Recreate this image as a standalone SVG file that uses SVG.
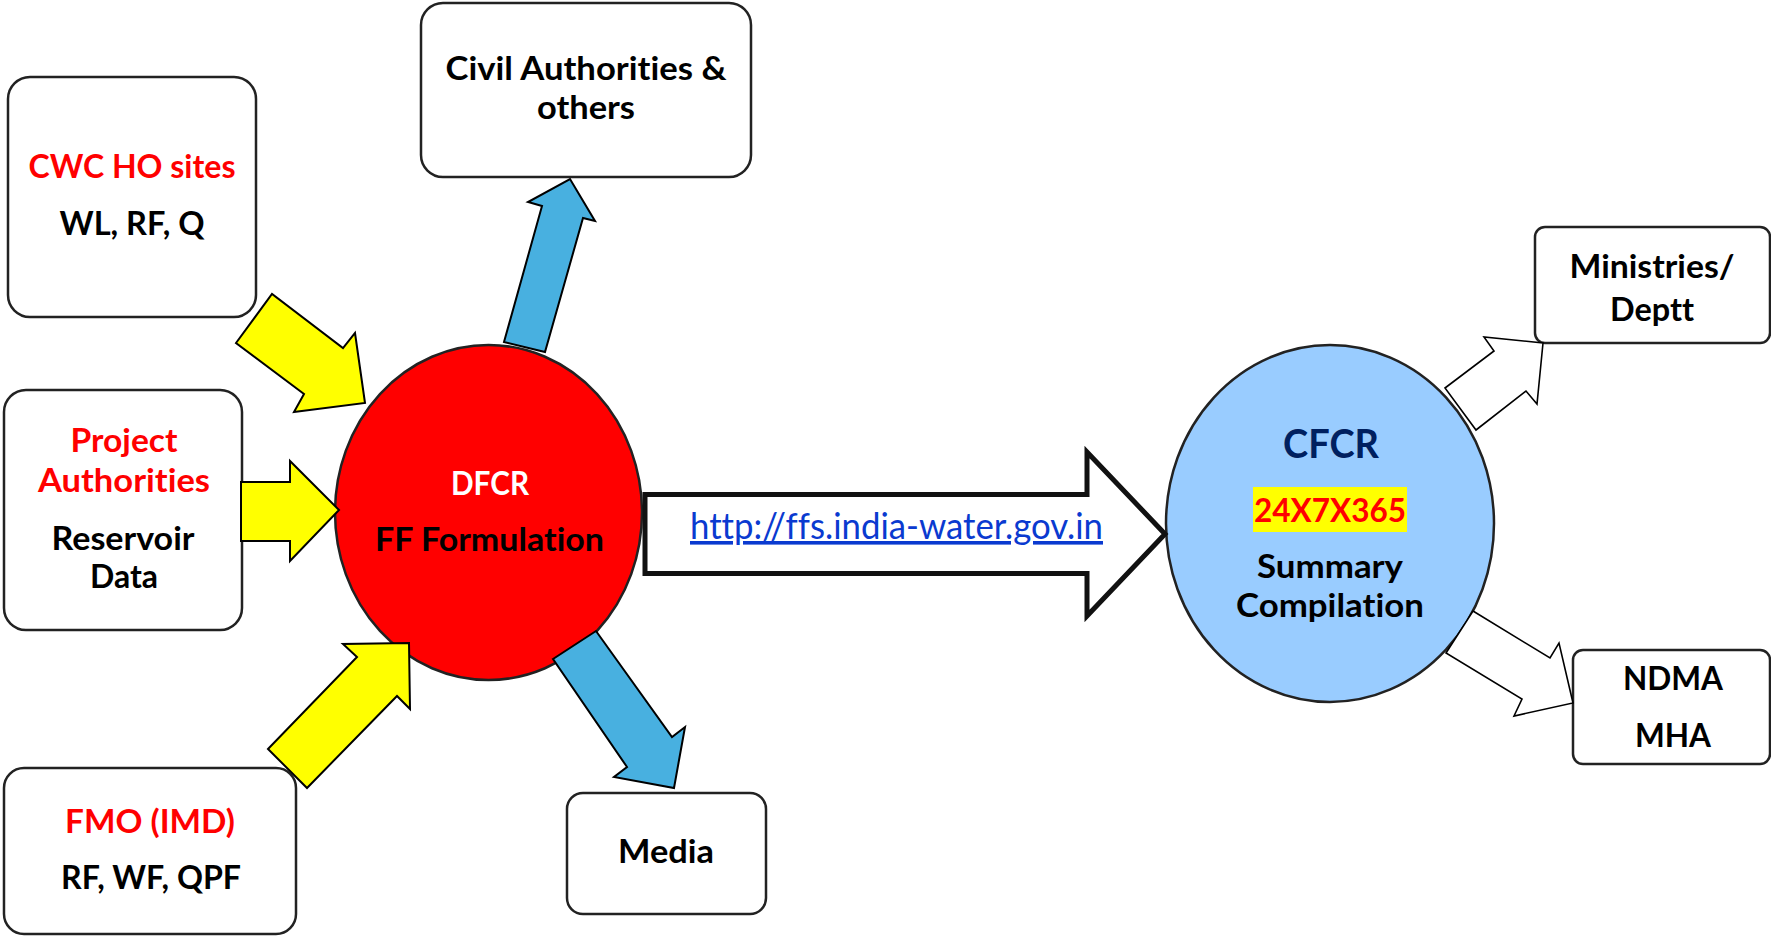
<svg xmlns="http://www.w3.org/2000/svg" width="1771" height="937" viewBox="0 0 1771 937">
<style>
text{font-family:Lato,"Liberation Sans",sans-serif;font-weight:bold;text-anchor:middle;font-variant-ligatures:none;font-feature-settings:"liga" 0}
.box{fill:#fff;stroke:#222;stroke-width:2.5}
.red{fill:#ff0000}
.blk{fill:#000}
.ya{fill:#ffff00;stroke:#000;stroke-width:2;stroke-linejoin:miter}
.ba{fill:#48b0e0;stroke:#000;stroke-width:2}
.wa{fill:#fff;stroke:#000;stroke-width:1.6}
</style>
<rect width="1771" height="937" fill="#fff"/>
<g id="cwc">
<rect class="box" x="8" y="77" width="248" height="240" rx="22"/>
<text class="red" x="132" y="178" font-size="32.5" textLength="207" lengthAdjust="spacingAndGlyphs">CWC HO sites</text>
<text class="blk" x="132" y="235" font-size="32.5" textLength="145" lengthAdjust="spacingAndGlyphs">WL, RF, Q</text>
</g>
<g id="project">
<rect class="box" x="4" y="390" width="238" height="240" rx="22"/>
<text class="red" x="124" y="452" font-size="32" textLength="107" lengthAdjust="spacingAndGlyphs">Project</text>
<text class="red" x="124" y="492" font-size="32" textLength="172" lengthAdjust="spacingAndGlyphs">Authorities</text>
<text class="blk" x="123" y="550" font-size="32" textLength="143" lengthAdjust="spacingAndGlyphs">Reservoir</text>
<text class="blk" x="124" y="588" font-size="32" textLength="68" lengthAdjust="spacingAndGlyphs">Data</text>
</g>
<g id="fmo">
<rect class="box" x="4" y="768" width="292" height="166" rx="20"/>
<text class="red" x="150" y="833" font-size="32.5" textLength="170" lengthAdjust="spacingAndGlyphs">FMO (IMD)</text>
<text class="blk" x="151" y="889" font-size="32.5" textLength="180" lengthAdjust="spacingAndGlyphs">RF, WF, QPF</text>
</g>
<g id="civil">
<rect class="box" x="421" y="3" width="330" height="174" rx="22"/>
<text class="blk" x="586" y="80" font-size="32.5" textLength="281" lengthAdjust="spacingAndGlyphs">Civil Authorities &amp;</text>
<text class="blk" x="586" y="119" font-size="32.5" textLength="98" lengthAdjust="spacingAndGlyphs">others</text>
</g>
<g id="media">
<rect class="box" x="567" y="793" width="199" height="121" rx="16"/>
<text class="blk" x="666" y="863" font-size="32.5" textLength="96" lengthAdjust="spacingAndGlyphs">Media</text>
</g>
<g id="dfcr">
<ellipse cx="488.5" cy="512.5" rx="153.5" ry="167.5" fill="#ff0000" stroke="#222" stroke-width="2.5"/>
<text x="490" y="495" font-size="32" fill="#fff" textLength="78" lengthAdjust="spacingAndGlyphs">DFCR</text>
<text class="blk" x="489.5" y="551" font-size="32.5" textLength="229" lengthAdjust="spacingAndGlyphs">FF Formulation</text>
</g>
<g id="cfcr">
<ellipse cx="1330" cy="523.5" rx="164" ry="178.5" fill="#99ccff" stroke="#222" stroke-width="2.5"/>
<text x="1331" y="458" font-size="41" fill="#002060" textLength="96" lengthAdjust="spacingAndGlyphs">CFCR</text>
<rect x="1253" y="487" width="154" height="45" fill="#ffff00"/>
<text class="red" x="1330" y="522" font-size="32.5" textLength="152" lengthAdjust="spacingAndGlyphs">24X7X365</text>
<text class="blk" x="1330" y="578" font-size="32.5" textLength="146" lengthAdjust="spacingAndGlyphs">Summary</text>
<text class="blk" x="1330" y="617" font-size="32.5" textLength="188" lengthAdjust="spacingAndGlyphs">Compilation</text>
</g>
<g id="ministries">
<rect class="box" x="1535" y="227" width="235" height="116" rx="10"/>
<text class="blk" x="1652" y="278" font-size="32.5" textLength="165" lengthAdjust="spacingAndGlyphs">Ministries/</text>
<text class="blk" x="1652" y="321" font-size="32.5" textLength="84" lengthAdjust="spacingAndGlyphs">Deptt</text>
</g>
<g id="ndma">
<rect class="box" x="1573" y="650" width="197" height="114" rx="10"/>
<text class="blk" x="1673" y="690" font-size="32.5" textLength="100" lengthAdjust="spacingAndGlyphs">NDMA</text>
<text class="blk" x="1673" y="747" font-size="32.5" textLength="76" lengthAdjust="spacingAndGlyphs">MHA</text>
</g>
<g id="connectors">
<polygon class="ya" points="236,343 272,294 343,348 355,333 365,403 294,412 304,394"/>
<polygon class="ya" points="241,482 290,482 290,461 339,510 290,561 290,541 241,541"/>
<polygon class="ya" points="268,749 357,657 343,644 409,643 410,709 397,696 307,788"/>
<polygon class="ba" points="504,342 545,352 583,218 595,221 570,179 528,202 542,206"/>
<polygon class="ba" points="553,659 596,631 672,737 685,727 674,788 614,777 627,767"/>
<polygon points="645,494.5 1087,494.5 1087,452 1165,534 1087,616 1087,573.5 645,573.5" fill="#fff" stroke="#111" stroke-width="5"/>
<text x="896.5" y="539" font-size="36" fill="#0a3ad0" text-decoration="underline" textLength="413" lengthAdjust="spacingAndGlyphs" style="font-weight:normal">http://ffs.india-water.gov.in</text>
<polygon class="wa" points="1445,388 1494,351 1484,337 1543,343 1537,404 1526,391 1476,430"/>
<polygon class="wa" points="1473,611 1550,658 1559,643 1573,703 1514,716 1522,699 1446,653"/>
</g>
</svg>
